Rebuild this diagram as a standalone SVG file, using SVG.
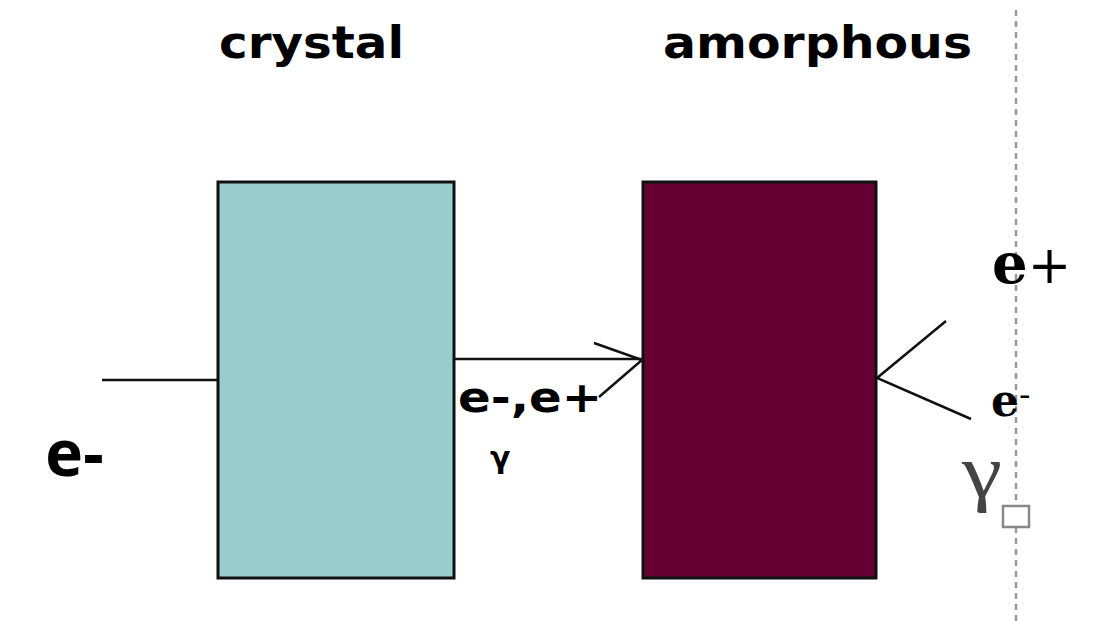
<svg xmlns="http://www.w3.org/2000/svg" width="1112" height="621" viewBox="0 0 1112 621">
<style>
.lbl{font-family:"DejaVu Sans",sans-serif;font-weight:bold;fill:#000}
.ser{font-family:"DejaVu Serif",serif;fill:#000}
.ln{stroke:#111;stroke-width:2.5;fill:none}
</style>
<rect width="1112" height="621" fill="#fff"/>
<g id="crystal">
<rect x="218" y="182" width="236" height="396" fill="#99cccc" stroke="#111" stroke-width="3"/>
<text class="lbl" x="219" y="58" font-size="44" textLength="185" lengthAdjust="spacingAndGlyphs">crystal</text>
</g>
<g id="amorphous">
<rect x="643" y="182" width="233" height="396" fill="#660033" stroke="#111" stroke-width="3"/>
<text class="lbl" x="663" y="58" font-size="44" textLength="309" lengthAdjust="spacingAndGlyphs">amorphous</text>
</g>
<g id="guide">
<line x1="1016" y1="10" x2="1016" y2="621" stroke="#999" stroke-width="2.5" stroke-dasharray="6,5"/>
<rect x="1003" y="506" width="26" height="21" fill="#fff" stroke="#888" stroke-width="2.5"/>
</g>
<g id="connectors">
<line class="ln" x1="102" y1="380" x2="218" y2="380"/>
<line class="ln" x1="454" y1="359" x2="642" y2="359"/>
<polyline class="ln" points="594,343 642,360 599,397"/>
<polyline class="ln" points="946,321 877,378 971,419"/>
</g>
<g id="labels">
<text x="45" y="476" font-size="64" font-family="Noto Sans, sans-serif" font-weight="bold">e-</text>
<text class="lbl" x="458" y="412" font-size="42" textLength="144" lengthAdjust="spacingAndGlyphs">e-,e+</text>
<text class="lbl" x="490" y="468" font-size="30">γ</text>
<text class="ser" x="992" y="283" font-size="56" font-weight="bold">e<tspan font-weight="normal" font-size="52">+</tspan></text>
<text class="ser" x="991" y="416" font-size="44" font-weight="bold">e<tspan font-weight="normal" font-size="34" dy="-10">-</tspan></text>
<text x="962" y="497" font-size="76" font-family="Liberation Serif, serif" fill="#444" textLength="40" lengthAdjust="spacingAndGlyphs">γ</text>
</g>
</svg>
